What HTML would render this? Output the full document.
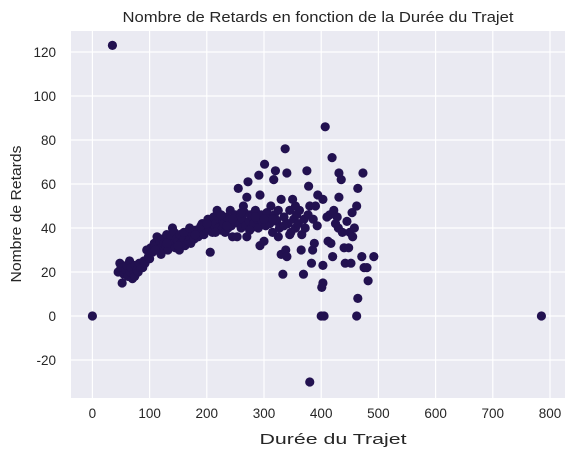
<!DOCTYPE html>
<html><head><meta charset="utf-8"><style>
html,body{margin:0;padding:0;background:#fff;}
svg{display:block;font-family:"Liberation Sans",Arial,sans-serif;}
</style></head><body>
<svg id="chart" width="575" height="457">
<rect x="71" y="31" width="494" height="367" fill="#eaeaf2"/>
<g id="grid"></g>
<g id="ticks"></g>
<g id="points"></g>
<text x="318" y="22" text-anchor="middle" font-size="15" fill="#262626" textLength="391" lengthAdjust="spacingAndGlyphs">Nombre de Retards en fonction de la Durée du Trajet</text>
<text x="333" y="444" text-anchor="middle" font-size="15" fill="#262626" textLength="147" lengthAdjust="spacingAndGlyphs">Durée du Trajet</text>
<text transform="translate(21,214) rotate(-90)" text-anchor="middle" font-size="15" fill="#262626" textLength="137" lengthAdjust="spacingAndGlyphs">Nombre de Retards</text>
</svg>
<script>
const xTicks=[0,100,200,300,400,500,600,700,800];
const yTicks=[-20,0,20,40,60,80,100,120];
const durees=[45,48,50,52,55,58,60,62,65,66,
68,70,72,74,75,78,80,82,85,88,
90,92,95,98,100,102,105,108,110,113,
115,118,120,122,125,128,130,132,135,138,
140,141,143,145,147,150,152,153,155,158,
160,162,165,168,170,172,175,178,180,183,
185,188,190,192,195,197,200,202,204,206,
208,210,212,214,216,218,220,222,225,228,
230,232,235,237,240,241,243,245,248,250,
253,255,256,258,260,262,264,266,268,270,
270,272,274,276,278,280,282,285,288,290,
291,293,293,295,297,300,301,303,305,307,
310,312,315,317,318,320,322,325,327,330,
330,333,335,337,338,340,340,342,345,347,
350,352,355,357,360,362,365,366,369,370,
372,375,377,378,380,380,383,385,386,388,
390,393,394,400,401,403,403,403,405,407,
410,412,415,417,419,420,422,425,428,430,
431,431,435,437,440,442,445,448,450,452,
454,455,458,462,464,462,464,471,473,475,
480,482,492,0,35,785,320,345,355,325,
215,225,235,245,260,275,285,300,315,335,
150,160,170,180,190,200,130,120,110,100];
const retards=[20,24,22,15,19,21,23,18,25,20,
22,17,19,18,23,21,20,24,22,22,
25,24,30,27,28,31,29,33,32,36,
30,34,31,35,33,32,37,30,34,36,
40,33,38,31,35,34,30,37,33,36,
35,32,38,34,36,33,37,35,39,39,
36,40,38,42,37,41,39,44,40,29,
43,38,45,41,42,48,40,44,39,43,
42,38,45,40,44,48,41,36,43,46,
36,58,42,45,40,44,50,47,41,54,
36,61,43,46,40,45,42,48,44,40,
64,55,32,46,43,34,69,41,47,44,
42,50,38,62,46,66,43,48,40,53,
28,19,45,76,30,65,27,42,48,38,
53,44,40,46,42,48,30,37,19,44,
40,66,46,59,-30,50,24,30,44,33,
50,41,55,0,13,15,23,53,0,86,
45,34,46,33,72,27,48,42,45,40,
54,65,62,38,31,24,43,31,38,24,
47,36,40,50,58,0,8,27,65,22,
22,16,27,0,123,0,44,37,50,36,
38,46,41,44,47,39,45,44,44,41,
32,38,40,37,41,42,33,28,30,26];
const NS="http://www.w3.org/2000/svg";
const L=71,R=565,T=31,B=398;
function xs(v){return 92.4+v*0.572;}
function ys(v){return 316-v*2.2;}
const grid=document.getElementById('grid'),ticks=document.getElementById('ticks'),pts=document.getElementById('points');
xTicks.forEach(v=>{
 const l=document.createElementNS(NS,'line');
 l.setAttribute('x1',xs(v));l.setAttribute('x2',xs(v));l.setAttribute('y1',T);l.setAttribute('y2',B);
 l.setAttribute('stroke','#fff');l.setAttribute('stroke-width','1.2');
 
 
 grid.appendChild(l);
 const t=document.createElementNS(NS,'text');
 t.setAttribute('x',xs(v));t.setAttribute('y',418);t.setAttribute('text-anchor','middle');
 t.setAttribute('font-size','13.5');t.setAttribute('fill','#262626');t.textContent=v;
 
 
 ticks.appendChild(t);
});
yTicks.forEach(v=>{
 const l=document.createElementNS(NS,'line');
 l.setAttribute('x1',L);l.setAttribute('x2',R);l.setAttribute('y1',ys(v));l.setAttribute('y2',ys(v));
 l.setAttribute('stroke','#fff');l.setAttribute('stroke-width','1.2');
 
 
 grid.appendChild(l);
 const t=document.createElementNS(NS,'text');
 t.setAttribute('x',56);t.setAttribute('y',ys(v)+5);t.setAttribute('text-anchor','end');
 t.setAttribute('font-size','13.5');t.setAttribute('fill','#262626');t.textContent=v;
 
 
 ticks.appendChild(t);
});
durees.forEach((d,i)=>{
 const c=document.createElementNS(NS,'circle');
 c.setAttribute('cx',xs(d));c.setAttribute('cy',ys(retards[i]));c.setAttribute('r','4.6');
 c.setAttribute('fill','#221150');
 
 
 pts.appendChild(c);
});
</script>
</body></html>
